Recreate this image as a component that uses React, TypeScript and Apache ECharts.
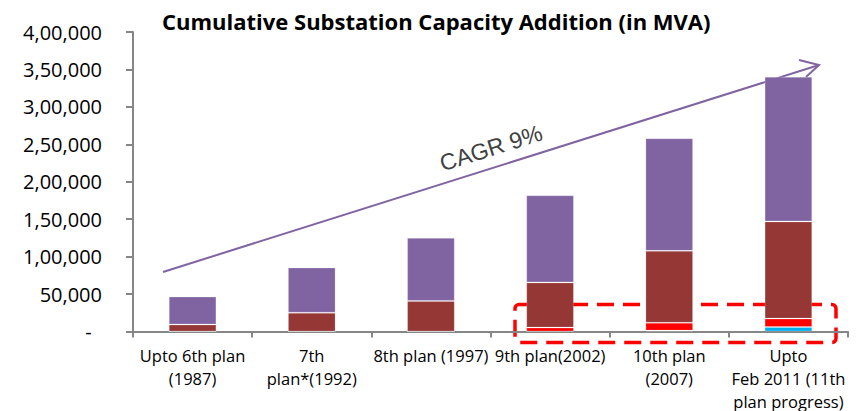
import React, { useEffect, useRef } from "react";
import * as echarts from "echarts";

const categories = [
  "Upto 6th plan\n(1987)",
  "7th\nplan*(1992)",
  "8th plan (1997)",
  "9th plan(2002)",
  "10th plan\n(2007)",
  "Upto\nFeb 2011 (11th\nplan progress)",
];
const seriesNames = ["765 kV", "HVDC", "400 kV", "220 kV"];
const kv765 = [0, 0, 0, 0, 1200, 6000];
const hvdc = [0, 0, 0, 5200, 10500, 11200];
const kv400 = [9330, 25000, 40865, 60380, 96000, 129800];
const kv220 = [37291, 60500, 84177, 116363, 150300, 193300];
const seriesColors = ["#00B0F0", "#FF0000", "#953735", "#8064A2"];
const yMin = 0;
const yMax = 400000;
const yInterval = 50000;
const titleText = "Cumulative Substation Capacity Addition (in MVA)";
const cagrText = "CAGR 9%";

function indian(v: number): string {
  if (v === 0) return "-  ";
  const s = String(Math.round(v));
  const last3 = s.slice(-3);
  let rest = s.slice(0, -3);
  if (!rest) return last3;
  rest = rest.replace(/\B(?=(\d{2})+(?!\d))/g, ",");
  return rest + "," + last3;
}

export default function App() {
  const ref = useRef<HTMLDivElement>(null);
  useEffect(() => {
    if (!ref.current) return;
    const chart = echarts.init(ref.current, undefined, { renderer: "svg" });
    const data = [kv765, hvdc, kv400, kv220];
    chart.setOption({
      animation: false,
      backgroundColor: "#ffffff",
      title: {
        text: titleText,
        left: 157,
        top: 5,
        textStyle: {
          fontFamily: "Open Sans",
          fontWeight: "bold",
          fontSize: 22,
          color: "#000000",
        },
      },
      grid: {
        left: 133,
        right: 10,
        top: 32,
        bottom: 79.5,
        containLabel: false,
        outerBoundsMode: "none",
      },
      xAxis: {
        type: "category",
        data: categories,
        axisLine: { lineStyle: { color: "#868686", width: 2 } },
        axisTick: { show: true, length: 6, lineStyle: { color: "#868686", width: 2 } },
        axisLabel: {
          interval: 0,
          margin: 12,
          fontFamily: "Open Sans",
          fontSize: 16.5,
          lineHeight: 23,
          color: "#000000",
        },
      },
      yAxis: {
        type: "value",
        min: yMin,
        max: yMax,
        interval: yInterval,
        splitLine: { show: false },
        axisLine: { show: true, lineStyle: { color: "#868686", width: 2 } },
        axisTick: { show: true, length: 7, lineStyle: { color: "#868686", width: 2 } },
        axisLabel: {
          margin: 31,
          fontFamily: "Open Sans",
          fontSize: 20,
          color: "#000000",
          formatter: (v: number) => indian(v),
        },
      },
      series: data.map((d, i) => ({
        name: seriesNames[i],
        type: "bar",
        stack: "total",
        data: d,
        barCategoryGap: "60%",
        itemStyle: {
          color: seriesColors[i],
          borderColor: "rgba(255,255,255,0.2)",
          borderWidth: 1,
        },
      })),
      graphic: [
        {
          type: "line",
          shape: { x1: 163, y1: 272, x2: 819, y2: 65 },
          style: { stroke: "#8064A2", lineWidth: 2 },
        },
        {
          type: "polyline",
          shape: { points: [[799, 60], [819, 65], [806, 77]] },
          style: { stroke: "#8064A2", lineWidth: 2, fill: null },
        },
        {
          type: "text",
          x: 491,
          y: 148,
          rotation: 0.305,
          style: {
            text: cagrText,
            fontFamily: "Liberation Sans",
            fontSize: 23,
            fill: "#404040",
            align: "center",
            verticalAlign: "middle",
          },
        },
        {
          type: "rect",
          shape: { x: 515, y: 304.5, width: 321, height: 38, r: 4 },
          style: {
            stroke: "#FF0000",
            lineWidth: 3.5,
            fill: null,
            lineDash: [17, 9],
          },
        },
      ],
    });
    return () => chart.dispose();
  }, []);
  return (
    <div
      ref={ref}
      style={{ position: "fixed", left: 0, top: 0, width: 858, height: 411 }}
    />
  );
}
